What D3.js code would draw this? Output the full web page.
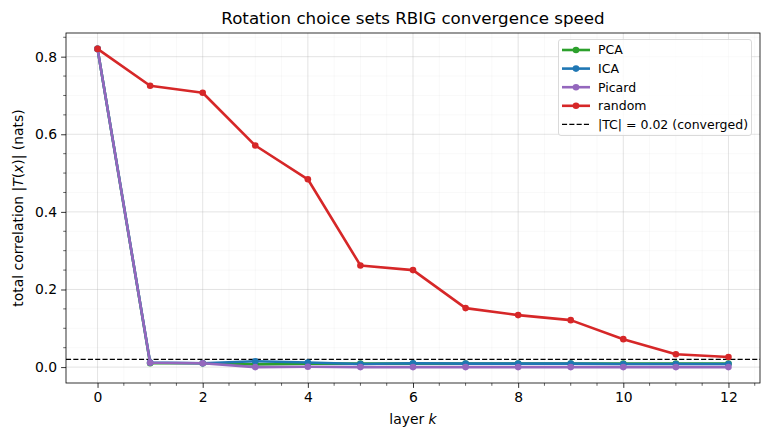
<!DOCTYPE html>
<html><head><meta charset="utf-8">
<script src="https://cdn.jsdelivr.net/npm/d3@7"></script>
<style>body{margin:0;background:#fff}svg{display:block}text{font-family:"DejaVu Sans",sans-serif}</style>
</head><body><svg id="c" width="770" height="440"></svg>
<script>
const layers = [0,1,2,3,4,5,6,7,8,9,10,11,12];
const pcaTC    = [0.82,0.010,0.010,0.007,0.009,0.009,0.009,0.009,0.009,0.009,0.009,0.009,0.009];
const icaTC    = [0.82,0.012,0.010,0.015,0.012,0.008,0.010,0.009,0.009,0.009,0.008,0.008,0.008];
const picardTC = [0.82,0.011,0.010,0.000,0.001,0.000,0.000,0.000,0.000,0.000,0.000,0.000,0.000];
const randomTC = [0.82,0.725,0.707,0.571,0.484,0.262,0.250,0.152,0.134,0.121,0.072,0.033,0.026];
const seriesNames = ["PCA","ICA","Picard","random"];
const seriesColors = ["#2ca02c","#1f77b4","#9467bd","#d62728"];
const threshold = 0.02;
const xTicks = [0,2,4,6,8,10,12];
const yTicks = [0.0,0.2,0.4,0.6,0.8];

const svg = d3.select("#c");
const L=66, R=760, T=33, B=383;
const x = d3.scaleLinear().domain([-0.6,12.6]).range([L,R]);
const y = d3.scaleLinear().domain([-0.041,0.861]).range([B,T]);
const LW = 2.6, MR = 3.3, DASH = "5.1,2.2";

const xMinor = d3.range(0,12.51,0.5);
const yMinor = d3.range(0,0.851,0.05);
const g = svg.append("g");
g.selectAll(".xm").data(xMinor).enter().append("line")
 .attr("x1",d=>x(d)).attr("x2",d=>x(d)).attr("y1",T).attr("y2",B)
 .attr("stroke","#000").attr("stroke-opacity",0.05).attr("stroke-width",0.6);
g.selectAll(".ym").data(yMinor).enter().append("line")
 .attr("y1",d=>y(d)).attr("y2",d=>y(d)).attr("x1",L).attr("x2",R)
 .attr("stroke","#000").attr("stroke-opacity",0.05).attr("stroke-width",0.6);
g.selectAll(".xM").data(xTicks).enter().append("line")
 .attr("x1",d=>x(d)).attr("x2",d=>x(d)).attr("y1",T).attr("y2",B)
 .attr("stroke","#b0b0b0").attr("stroke-opacity",0.35).attr("stroke-width",0.8);
g.selectAll(".yM").data(yTicks).enter().append("line")
 .attr("y1",d=>y(d)).attr("y2",d=>y(d)).attr("x1",L).attr("x2",R)
 .attr("stroke","#b0b0b0").attr("stroke-opacity",0.35).attr("stroke-width",0.8);

svg.append("line").attr("x1",L).attr("x2",R).attr("y1",y(threshold)).attr("y2",y(threshold))
 .attr("stroke","#000").attr("stroke-width",1.3).attr("stroke-dasharray",DASH);

const allData = [pcaTC,icaTC,picardTC,randomTC];
const line = d3.line().x((d,i)=>x(layers[i])).y(d=>y(d));
allData.forEach((vals,si)=>{
  svg.append("path").attr("d",line(vals)).attr("fill","none")
    .attr("stroke",seriesColors[si]).attr("stroke-width",LW).attr("stroke-linejoin","round");
  svg.selectAll(null).data(vals).enter().append("circle")
    .attr("cx",(d,i)=>x(layers[i])).attr("cy",d=>y(d)).attr("r",MR)
    .attr("fill",seriesColors[si]);
});

const xAxis = d3.axisBottom(x).tickValues(xTicks).tickFormat(d3.format("d")).tickSize(4.9).tickPadding(4);
const ax = svg.append("g").attr("transform",`translate(0,${B})`).call(xAxis);
const yAxis = d3.axisLeft(y).tickValues(yTicks).tickFormat(d3.format(".1f")).tickSize(4.9).tickPadding(4);
const ay = svg.append("g").attr("transform",`translate(${L},0)`).call(yAxis);
[ax,ay].forEach(a=>{a.select(".domain").remove();
  a.selectAll("text").attr("font-size","13.9px").attr("fill","#000").attr("font-family","DejaVu Sans");
  a.selectAll("line").attr("stroke","#000").attr("stroke-width",0.8);});
svg.append("g").attr("transform",`translate(0,${B})`).selectAll("line")
 .data(xMinor.filter(d=>!xTicks.includes(d))).enter().append("line")
 .attr("x1",d=>x(d)).attr("x2",d=>x(d)).attr("y1",0).attr("y2",2.8).attr("stroke","#000").attr("stroke-width",0.6);
svg.append("g").selectAll("line")
 .data(yMinor.filter(d=>!yTicks.some(t=>Math.abs(t-d)<1e-6))).enter().append("line")
 .attr("x1",L-2.8).attr("x2",L).attr("y1",d=>y(d)).attr("y2",d=>y(d)).attr("stroke","#000").attr("stroke-width",0.6);
svg.append("rect").attr("x",L).attr("y",T).attr("width",R-L).attr("height",B-T)
 .attr("fill","none").attr("stroke","#000").attr("stroke-width",0.8);

svg.append("text").attr("x",(L+R)/2).attr("y",24).attr("text-anchor","middle")
 .attr("font-size","16.7px").text("Rotation choice sets RBIG convergence speed");
const xl = svg.append("text").attr("x",(L+R)/2).attr("y",424).attr("text-anchor","middle").attr("font-size","13.9px");
xl.append("tspan").text("layer ");
xl.append("tspan").attr("font-style","italic").text("k");
const yl = svg.append("text").attr("transform",`translate(23,${(T+B)/2}) rotate(-90)`).attr("text-anchor","middle").attr("font-size","13.9px");
yl.append("tspan").text("total correlation |");
yl.append("tspan").attr("font-style","italic").text("T");
yl.append("tspan").text("(");
yl.append("tspan").attr("font-style","italic").text("x");
yl.append("tspan").text(")| (nats)");

const lg = svg.append("g");
lg.append("rect").attr("x",558.5).attr("y",39.5).attr("width",193).attr("height",96).attr("rx",2.5)
 .attr("fill","#fff").attr("fill-opacity",0.8).attr("stroke","#d0d0d0").attr("stroke-width",0.8);
const legItems = seriesNames.map((n,i)=>({name:n,color:seriesColors[i],dash:false}))
 .concat([{name:`|TC| = ${threshold} (converged)`,color:"#000",dash:true}]);
legItems.forEach((it,i)=>{
  const yy = 50 + i*18.6;
  lg.append("line").attr("x1",562).attr("x2",590).attr("y1",yy).attr("y2",yy)
   .attr("stroke",it.color).attr("stroke-width",it.dash?1.3:LW)
   .attr("stroke-dasharray",it.dash?DASH:null);
  if(!it.dash) lg.append("circle").attr("cx",576).attr("cy",yy).attr("r",MR).attr("fill",it.color);
  lg.append("text").attr("x",598).attr("y",yy+4.4).attr("font-size","12.5px").text(it.name);
});
</script></body></html>
